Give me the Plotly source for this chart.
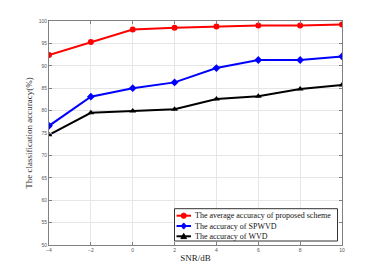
import plotly.graph_objects as go

snr = [-4, -2, 0, 2, 4, 6, 8, 10]
proposed = [92.4, 95.3, 98.1, 98.5, 98.8, 99.0, 99.0, 99.2]
spwvd = [76.6, 83.1, 85.0, 86.3, 89.5, 91.3, 91.3, 92.1]
wvd = [74.6, 79.5, 79.9, 80.3, 82.6, 83.2, 84.8, 85.7]
names = ["The average accuracy of proposed scheme", "The accuracy of SPWVD", "The accuracy of WVD"]
colors = ["#ff0000", "#0000ff", "#000000"]
symbols = ["circle", "diamond", "triangle-up"]
x_ticks = [-4, -2, 0, 2, 4, 6, 8, 10]
y_ticks = [50, 55, 60, 65, 70, 75, 80, 85, 90, 95, 100]

OFF = 8  # default page body margin
W, H = 370, 268
ML, MR, MT, MB = 41, 36, 13, 31
PW, PH = W - ML - MR, H - MT - MB


def X(px):
    return (px - OFF - ML) / PW


def Y(py):
    return (OFF + MT + PH - py) / PH


fig = go.Figure()
for y, name, color, sym in zip([proposed, spwvd, wvd], names, colors, symbols):
    fig.add_trace(go.Scatter(x=snr, y=y, name=name, mode="lines+markers",
                             line=dict(color=color, width=2),
                             marker=dict(color=color, symbol=sym, size=6),
                             showlegend=False))

axis_common = dict(showgrid=True, gridcolor="#e6e6e6", gridwidth=1,
                   showline=True, linecolor="#808080", linewidth=1, mirror="ticks",
                   ticks="inside", ticklen=3, tickcolor="#808080",
                   tickfont=dict(family="Liberation Sans, Arial", size=5, color="#555555"),
                   zeroline=False, automargin=False)
fig.update_xaxes(range=[-4, 10], tickvals=x_ticks,
                 title=dict(text="SNR/dB", font=dict(family="Liberation Serif, Times New Roman", size=9, color="#222222"), standoff=2),
                 **axis_common)
fig.update_yaxes(range=[50, 100], tickvals=y_ticks,
                 title=dict(text="The classification accuracy(%)", font=dict(family="Liberation Serif, Times New Roman", size=9, color="#333333"), standoff=4),
                 **axis_common)

# custom compact legend (MATLAB-style)
shapes = [dict(type="rect", xref="paper", yref="paper",
               x0=X(174.5), x1=X(337.5), y0=Y(241), y1=Y(208.7),
               line=dict(color="#333333", width=1), fillcolor="white", layer="above")]
annotations = []
rows = [215.7, 226.0, 236.3]
for py, name, color, sym in zip(rows, names, colors, symbols):
    shapes.append(dict(type="line", xref="paper", yref="paper",
                       x0=X(176.5), x1=X(191), y0=Y(py), y1=Y(py),
                       line=dict(color=color, width=2), layer="above"))
    cx, r = 183.7, 2.6
    if sym == "circle":
        shapes.append(dict(type="circle", xref="paper", yref="paper",
                           x0=X(cx - r), x1=X(cx + r), y0=Y(py + r), y1=Y(py - r),
                           fillcolor=color, line=dict(color=color, width=1), layer="above"))
    elif sym == "diamond":
        path = "M {} {} L {} {} L {} {} L {} {} Z".format(
            X(cx), Y(py - r - 0.5), X(cx + r), Y(py), X(cx), Y(py + r + 0.5), X(cx - r), Y(py))
        shapes.append(dict(type="path", xref="paper", yref="paper", path=path,
                           fillcolor=color, line=dict(color=color, width=1), layer="above"))
    else:
        path = "M {} {} L {} {} L {} {} Z".format(
            X(cx), Y(py - r - 0.3), X(cx + r + 0.3), Y(py + r - 0.3), X(cx - r - 0.3), Y(py + r - 0.3))
        shapes.append(dict(type="path", xref="paper", yref="paper", path=path,
                           fillcolor=color, line=dict(color=color, width=1), layer="above"))
    annotations.append(dict(xref="paper", yref="paper", x=X(193), y=Y(py),
                            xanchor="left", yanchor="middle", showarrow=False,
                            text=name, font=dict(family="Liberation Serif, Times New Roman", size=8.0, color="#111111")))

fig.update_layout(
    width=W, height=H,
    margin=dict(l=ML, r=MR, t=MT, b=MB, autoexpand=False),
    paper_bgcolor="white", plot_bgcolor="white",
    showlegend=False,
    shapes=shapes, annotations=annotations,
)
fig.write_html("out.html")
